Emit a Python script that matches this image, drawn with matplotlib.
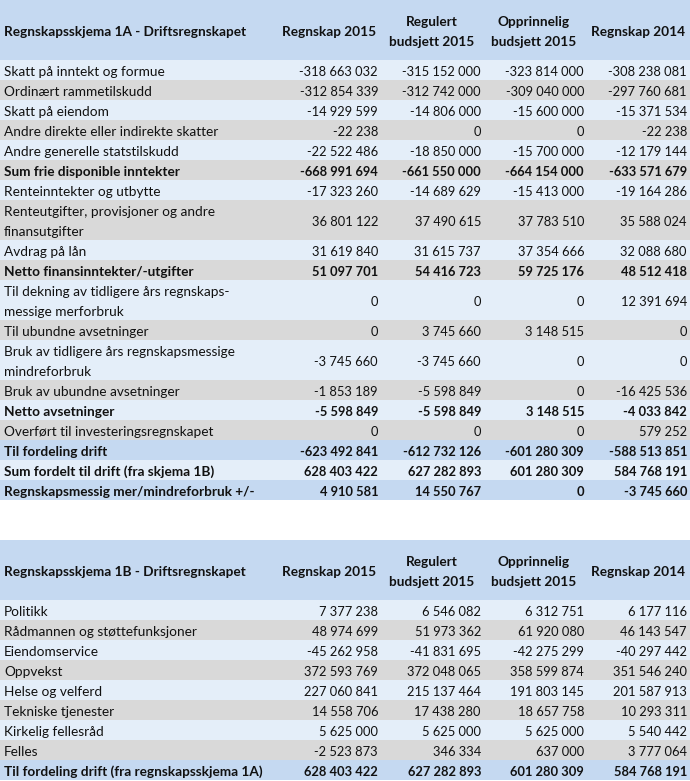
import matplotlib.pyplot as plt
from matplotlib.patches import Rectangle

# Kolonneoverskrifter
kolonner = ['Regnskap 2015', 'Regulert\nbudsjett 2015', 'Opprinnelig\nbudsjett 2015', 'Regnskap 2014']

# Regnskapsskjema 1A
tittel_1a = 'Regnskapsskjema 1A - Driftsregnskapet'
poster_1a = [
    'Skatt på inntekt og formue',
    'Ordinært rammetilskudd',
    'Skatt på eiendom',
    'Andre direkte eller indirekte skatter',
    'Andre generelle statstilskudd',
    'Sum frie disponible inntekter',
    'Renteinntekter og utbytte',
    'Renteutgifter, provisjoner og andre\nfinansutgifter',
    'Avdrag på lån',
    'Netto finansinntekter/-utgifter',
    'Til dekning av tidligere års regnskaps-\nmessige merforbruk',
    'Til ubundne avsetninger',
    'Bruk av tidligere års regnskapsmessige\nmindreforbruk',
    'Bruk av ubundne avsetninger',
    'Netto avsetninger',
    'Overført til investeringsregnskapet',
    'Til fordeling drift',
    'Sum fordelt til drift (fra skjema 1B)',
    'Regnskapsmessig mer/mindreforbruk +/-',
]
regnskap_2015_1a = [-318663032, -312854339, -14929599, -22238, -22522486, -668991694,
                    -17323260, 36801122, 31619840, 51097701, 0, 0, -3745660, -1853189,
                    -5598849, 0, -623492841, 628403422, 4910581]
regulert_2015_1a = [-315152000, -312742000, -14806000, 0, -18850000, -661550000,
                    -14689629, 37490615, 31615737, 54416723, 0, 3745660, -3745660, -5598849,
                    -5598849, 0, -612732126, 627282893, 14550767]
opprinnelig_2015_1a = [-323814000, -309040000, -15600000, 0, -15700000, -664154000,
                       -15413000, 37783510, 37354666, 59725176, 0, 3148515, 0, 0,
                       3148515, 0, -601280309, 601280309, 0]
regnskap_2014_1a = [-308238081, -297760681, -15371534, -22238, -12179144, -633571679,
                    -19164286, 35588024, 32088680, 48512418, 12391694, 0, 0, -16425536,
                    -4033842, 579252, -588513851, 584768191, -3745660]
fete_1a = ['Sum frie disponible inntekter', 'Netto finansinntekter/-utgifter', 'Netto avsetninger',
           'Til fordeling drift', 'Sum fordelt til drift (fra skjema 1B)',
           'Regnskapsmessig mer/mindreforbruk +/-']
markerte_1a = ['Til fordeling drift', 'Regnskapsmessig mer/mindreforbruk +/-']
lyse_1a = ['Sum fordelt til drift (fra skjema 1B)']

# Regnskapsskjema 1B
tittel_1b = 'Regnskapsskjema 1B - Driftsregnskapet'
poster_1b = [
    'Politikk',
    'Rådmannen og støttefunksjoner',
    'Eiendomservice',
    'Oppvekst',
    'Helse og velferd',
    'Tekniske tjenester',
    'Kirkelig fellesråd',
    'Felles',
    'Til fordeling drift (fra regnskapsskjema 1A)',
]
regnskap_2015_1b = [7377238, 48974699, -45262958, 372593769, 227060841, 14558706, 5625000, -2523873, 628403422]
regulert_2015_1b = [6546082, 51973362, -41831695, 372048065, 215137464, 17438280, 5625000, 346334, 627282893]
opprinnelig_2015_1b = [6312751, 61920080, -42275299, 358599874, 191803145, 18657758, 5625000, 637000, 601280309]
regnskap_2014_1b = [6177116, 46143547, -40297442, 351546240, 201587913, 10293311, 5540442, 3777064, 584768191]
fete_1b = ['Til fordeling drift (fra regnskapsskjema 1A)']
markerte_1b = ['Til fordeling drift (fra regnskapsskjema 1A)']
lyse_1b = []

# Farger og mål (piksler)
BLA = '#c5d9f1'
LYS = '#e4eef9'
GRA = '#d9d9d9'
TEKST = '#111111'
RAD_H = 20
TOPP_H = 60
HOYRE = [378, 481, 584, 687]
MIDT = [329, 432, 534, 638]
DY = 1.5  # teksten litt ned i cellen
STR_TEKST = 9.8
STR_TALL = 9.3

plt.rcParams['font.family'] = ['Lato', 'DejaVu Sans']


def fmt(v):
    return f'{v:,}'.replace(',', ' ')


def tegn_tabell(ax, y0, tittel, poster, kolonnedata, fete, markerte, lyse):
    # Overskrift
    ax.add_patch(Rectangle((0, y0), 690, TOPP_H, color=BLA, lw=0))
    ax.text(4, y0 + TOPP_H / 2 + DY, tittel, ha='left', va='center', fontsize=STR_TEKST,
            fontweight='bold', color=TEKST)
    for x, navn in zip(MIDT, kolonner):
        linjer = navn.split('\n')
        start = y0 + TOPP_H / 2 - (len(linjer) - 1) * RAD_H / 2 + DY
        for i, linje in enumerate(linjer):
            ax.text(x, start + i * RAD_H, linje, ha='center', va='center', fontsize=STR_TEKST,
                    fontweight='bold', color=TEKST)

    # Rader
    y = y0 + TOPP_H
    for r, post in enumerate(poster):
        linjer = post.split('\n')
        h = RAD_H * len(linjer)
        if post in markerte:
            farge = BLA
        elif post in lyse:
            farge = LYS
        else:
            farge = LYS if r % 2 == 0 else GRA
        ax.add_patch(Rectangle((0, y), 690, h, color=farge, lw=0))
        vekt = 'bold' if post in fete else 'normal'
        for i, linje in enumerate(linjer):
            ax.text(4, y + RAD_H / 2 + i * RAD_H + DY, linje, ha='left', va='center',
                    fontsize=STR_TEKST, fontweight=vekt, color=TEKST)
        for x, verdier in zip(HOYRE, kolonnedata):
            ax.text(x, y + h / 2 + DY, fmt(verdier[r]), ha='right', va='center',
                    fontsize=STR_TALL, fontweight=vekt, color=TEKST)
        y += h


fig = plt.figure(figsize=(6.9, 7.81), dpi=100)
ax = fig.add_axes([0, 0, 1, 1])
ax.set_xlim(0, 690)
ax.set_ylim(781, 0)
ax.axis('off')

tegn_tabell(ax, 0, tittel_1a, poster_1a,
            [regnskap_2015_1a, regulert_2015_1a, opprinnelig_2015_1a, regnskap_2014_1a],
            fete_1a, markerte_1a, lyse_1a)
tegn_tabell(ax, 540, tittel_1b, poster_1b,
            [regnskap_2015_1b, regulert_2015_1b, opprinnelig_2015_1b, regnskap_2014_1b],
            fete_1b, markerte_1b, lyse_1b)

fig.savefig('out.png', dpi=100)
